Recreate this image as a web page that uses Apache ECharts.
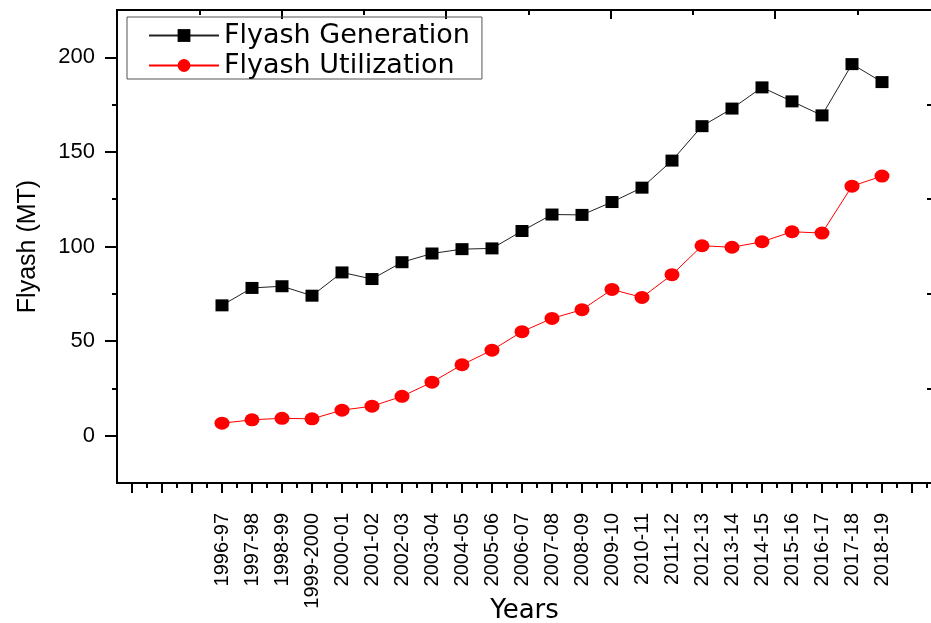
<!DOCTYPE html>
<html>
<head>
<meta charset="utf-8">
<script src="https://cdn.jsdelivr.net/npm/echarts@6/dist/echarts.min.js"></script>
<style>
html,body{margin:0;padding:0;background:#fff;}
#chart{width:931px;height:623px;}
</style>
</head>
<body>
<div id="chart"></div>
<script>
const categories = ['1996-97','1997-98','1998-99','1999-2000','2000-01','2001-02','2002-03','2003-04','2004-05','2005-06','2006-07','2007-08','2008-09','2009-10','2010-11','2011-12','2012-13','2013-14','2014-15','2015-16','2016-17','2017-18','2018-19'];
const generation = [68.9, 78.1, 79.0, 74.0, 86.3, 82.8, 91.7, 96.3, 98.6, 99.0, 108.2, 116.9, 116.7, 123.5, 131.1, 145.4, 163.6, 172.9, 184.1, 176.7, 169.3, 196.4, 186.9];
const utilization = [6.6, 8.4, 9.2, 8.9, 13.5, 15.6, 20.8, 28.3, 37.5, 45.2, 55.0, 62.0, 66.6, 77.3, 73.1, 85.1, 100.4, 99.6, 102.5, 107.8, 107.1, 131.9, 137.2];
const yTickLabels = [0, 50, 100, 150, 200];
const seriesNames = ['Flyash Generation', 'Flyash Utilization'];

const chart = echarts.init(document.getElementById('chart'), null, {renderer: 'canvas'});

const xMajor = [];
for (let i = -3; i <= 23; i++) xMajor.push(i);
const xMinor = [];
for (let i = -3; i <= 23; i++) xMinor.push(i + 0.5);
const xLabelVals = categories.map((c, i) => i);

const tickStyle = {color: '#000', width: 2};
const noLine = {show: false, onZero: false};

chart.setOption({
  animation: false,
  backgroundColor: '#fff',
  grid: {
    left: 117, top: 10, right: -1, bottom: 140,
    outerBoundsMode: 'none', containLabel: false,
    show: true, borderColor: '#000', borderWidth: 2, backgroundColor: '#fff'
  },
  legend: {
    orient: 'vertical',
    left: 127, top: 17,
    padding: [5, 12, 0, 21],
    itemWidth: 70, itemHeight: 16, itemGap: 3,
    borderColor: '#555', borderWidth: 1,
    data: seriesNames,
    textStyle: {fontFamily: 'DejaVu Sans', fontSize: 27, color: '#000', lineHeight: 25, width: 245}
  },
  xAxis: [
    {
      type: 'value', position: 'bottom', min: -3.5, max: -3.5 + 815 / 30,
      axisLine: noLine,
      splitLine: {show: false},
      axisTick: {show: true, length: 10, lineStyle: tickStyle, customValues: xMajor},
      axisLabel: {
        show: true, customValues: xLabelVals, rotate: 90, margin: 30,
        fontFamily: 'Liberation Sans', fontSize: 20, color: '#000',
        formatter: v => categories[Math.round(v)] || ''
      },
      name: 'Years', nameLocation: 'middle', nameGap: 115, nameMoveOverlap: false,
      nameTextStyle: {fontFamily: 'DejaVu Sans', fontSize: 26, color: '#000'}
    },
    {
      type: 'value', position: 'bottom', min: -3.5, max: -3.5 + 815 / 30,
      axisLine: noLine, splitLine: {show: false},
      axisTick: {show: true, length: 5, lineStyle: tickStyle, customValues: xMinor},
      axisLabel: {show: false}
    },
    {
      type: 'value', position: 'top', min: 0, max: 815 / 164.5,
      axisLine: noLine, splitLine: {show: false},
      axisTick: {show: true, inside: true, length: 9, lineStyle: tickStyle, customValues: [1, 2, 3, 4]},
      axisLabel: {show: false}
    },
    {
      type: 'value', position: 'top', min: 0, max: 815 / 164.5,
      axisLine: noLine, splitLine: {show: false},
      axisTick: {show: true, inside: true, length: 5, lineStyle: tickStyle, customValues: [0.5, 1.5, 2.5, 3.5, 4.5]},
      axisLabel: {show: false}
    }
  ],
  yAxis: [
    {
      type: 'value', position: 'left', min: -25, max: 225,
      axisLine: noLine, splitLine: {show: false},
      axisTick: {show: true, length: 12, lineStyle: tickStyle, customValues: yTickLabels},
      axisLabel: {show: true, customValues: yTickLabels, margin: 22, fontFamily: 'Liberation Sans', fontSize: 22, color: '#000'},
      name: 'Flyash (MT)', nameLocation: 'middle', nameGap: 76, nameMoveOverlap: false,
      nameTextStyle: {fontFamily: 'Liberation Sans', fontSize: 25, color: '#000'}
    },
    {
      type: 'value', position: 'left', min: -25, max: 225,
      axisLine: noLine, splitLine: {show: false},
      axisTick: {show: true, length: 5, lineStyle: tickStyle, customValues: [25, 75, 125, 175]},
      axisLabel: {show: false}
    },
    {
      type: 'value', position: 'right', min: -25, max: 225,
      axisLine: noLine, splitLine: {show: false},
      axisTick: {show: true, inside: true, length: 5, lineStyle: tickStyle, customValues: [25, 75, 125, 175]},
      axisLabel: {show: false}
    }
  ],
  series: [
    {
      name: seriesNames[0], type: 'line', xAxisIndex: 0, yAxisIndex: 0,
      data: generation.map((v, i) => [i, v]),
      symbol: 'rect', symbolSize: [13, 12],
      itemStyle: {color: '#000'},
      lineStyle: {color: '#222', width: 1}
    },
    {
      name: seriesNames[1], type: 'line', xAxisIndex: 0, yAxisIndex: 0,
      data: utilization.map((v, i) => [i, v]),
      symbol: 'circle', symbolSize: [15, 13],
      itemStyle: {color: '#ff0000'},
      lineStyle: {color: '#ff0000', width: 1}
    }
  ]
});
</script>
</body>
</html>
